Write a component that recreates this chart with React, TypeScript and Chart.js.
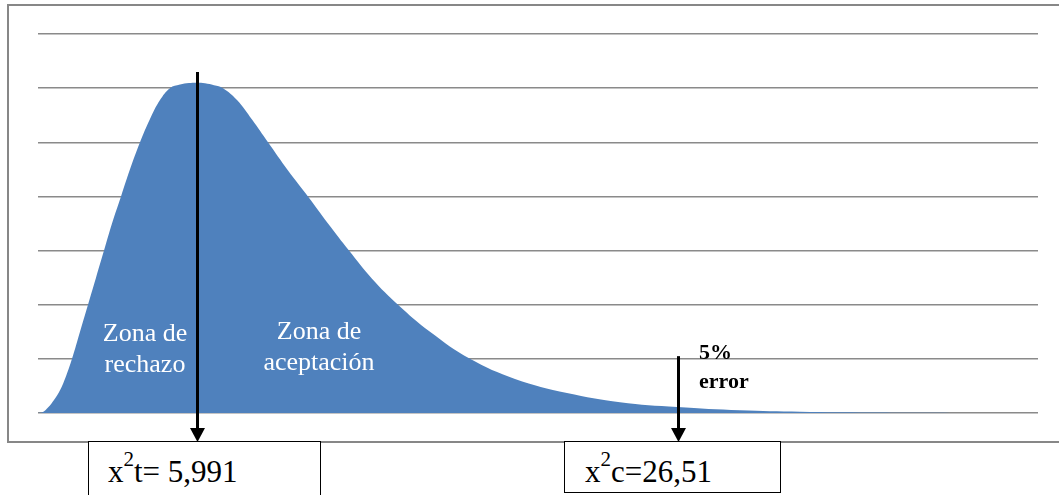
import React, { useEffect, useRef } from "react";
import { Chart, registerables } from "chart.js";

Chart.register(...registerables);

// Curve sample positions (horizontal units) and heights (grid units)
const curveX = [0, 0.5, 1.0, 1.6, 2.2, 2.8, 3.4, 4.2, 5.0, 5.8, 6.6, 7.4, 8.3, 9.2, 10.2, 11.2, 12.2, 13.2, 14.2, 15.1, 15.9, 16.7, 17.6, 18.5, 19.9, 21.4, 23.0, 25.0, 27.0, 29.0, 31.1, 33.4, 36.0, 39.2, 43.2, 47.7, 52.9, 58.2, 63.9, 70.2, 76.2, 83.2, 91.2, 100];
const curveY = [0, 0.02, 0.1, 0.24, 0.42, 0.68, 1.0, 1.5, 2.0, 2.5, 3.0, 3.5, 4.0, 4.5, 5.0, 5.43, 5.78, 6.0, 6.065, 6.093, 6.1, 6.09, 6.055, 6.0, 5.78, 5.42, 5.0, 4.48, 4.0, 3.5, 3.0, 2.48, 2.0, 1.5, 1.0, 0.63, 0.37, 0.2, 0.11, 0.05, 0.022, 0.008, 0.002, 0];

const yTicks = [0, 1, 2, 3, 4, 5, 6, 7];

// Arrow annotations: x position, top of shaft (grid units)
const arrowX = [15.9, 64];
const arrowTop = [6.3, 1.05];

const FONT = '"Liberation Serif", "DejaVu Serif", "Noto Serif", "Times New Roman", Times, serif';

export default function App() {
  const ref = useRef<HTMLCanvasElement | null>(null);

  useEffect(() => {
    if (!ref.current) return;
    const annot = {
      id: "annot",
      afterDraw(chart: any) {
        const ctx = chart.ctx;
        const xs = chart.scales.x;
        const ys = chart.scales.y;
        ctx.save();
        // outer frame (right side runs off the picture)
        ctx.strokeStyle = "#878787";
        ctx.lineWidth = 2;
        ctx.strokeRect(8, 5, 1065, 437);
        // arrows
        ctx.strokeStyle = "#000";
        ctx.fillStyle = "#000";
        for (let i = 0; i < arrowX.length; i++) {
          const x = Math.round(xs.getPixelForValue(arrowX[i])) + 0.5;
          const top = ys.getPixelForValue(arrowTop[i]);
          const tip = ys.bottom + 29;
          ctx.lineWidth = 3;
          ctx.beginPath();
          ctx.moveTo(x, top);
          ctx.lineTo(x, tip - 12);
          ctx.stroke();
          ctx.beginPath();
          ctx.moveTo(x - 7.5, tip - 14);
          ctx.lineTo(x + 7.5, tip - 14);
          ctx.lineTo(x, tip);
          ctx.closePath();
          ctx.fill();
        }
        ctx.restore();
      },
    };
    const chart = new Chart(ref.current, {
      type: "line",
      data: {
        datasets: [
          {
            data: curveX.map((x, i) => ({ x, y: curveY[i] })),
            fill: "origin",
            backgroundColor: "#4F81BD",
            borderColor: "#4F81BD",
            borderWidth: 0,
            pointRadius: 0,
            tension: 0.4,
          },
        ],
      },
      options: {
        responsive: false,
        maintainAspectRatio: false,
        animation: false,
        events: [],
        layout: { padding: { left: 38, right: 21, top: 34, bottom: 82 } },
        plugins: { legend: { display: false }, tooltip: { enabled: false } },
        scales: {
          x: { type: "linear", min: 0, max: 100, display: false },
          y: {
            min: 0,
            max: 7,
            afterBuildTicks: (axis: any) => {
              axis.ticks = yTicks.map((v) => ({ value: v }));
            },
            ticks: { display: false },
            border: { display: false },
            grid: { color: "#8a8a8a", lineWidth: 1.5, drawTicks: false },
          },
        },
      },
      plugins: [annot],
    });
    return () => chart.destroy();
  }, []);

  const box: React.CSSProperties = {
    position: "absolute",
    border: "1.5px solid #000",
    boxSizing: "border-box",
    background: "#fff",
  };
  const zone: React.CSSProperties = {
    position: "absolute",
    width: 200,
    textAlign: "center",
    color: "#fff",
    fontFamily: FONT,
    fontSize: 26,
    lineHeight: "31px",
    whiteSpace: "nowrap",
  };
  const valText: React.CSSProperties = {
    position: "absolute",
    fontFamily: FONT,
    fontSize: 31,
    lineHeight: "31px",
    color: "#000",
    whiteSpace: "nowrap",
  };
  const sup: React.CSSProperties = {
    fontSize: 21,
    position: "relative",
    top: -16,
  };

  return (
    <div style={{ position: "absolute", left: 0, top: 0, width: 1059, height: 495, overflow: "hidden", background: "#fff" }}>
      <canvas ref={ref} width={1059} height={495} style={{ position: "absolute", left: 0, top: 0, width: 1059, height: 495 }} />
      <div style={{ ...zone, left: 45, top: 317 }}>
        Zona de
        <br />
        rechazo
      </div>
      <div style={{ ...zone, left: 219, top: 315 }}>
        Zona de
        <br />
        aceptación
      </div>
      <div
        style={{
          position: "absolute",
          left: 699,
          top: 337,
          fontFamily: FONT,
          fontSize: 22,
          fontWeight: "bold",
          lineHeight: "29px",
          color: "#000",
        }}
      >
        5%
        <br />
        error
      </div>
      <div style={{ ...box, left: 88, top: 441, width: 233, height: 70 }} />
      <div style={{ ...box, left: 564, top: 441, width: 217, height: 52 }} />
      <div style={{ ...valText, left: 108, top: 456 }}>
        x<span style={sup}>2</span>t= 5,991
      </div>
      <div style={{ ...valText, left: 585, top: 456 }}>
        x<span style={sup}>2</span>c=26,51
      </div>
    </div>
  );
}
